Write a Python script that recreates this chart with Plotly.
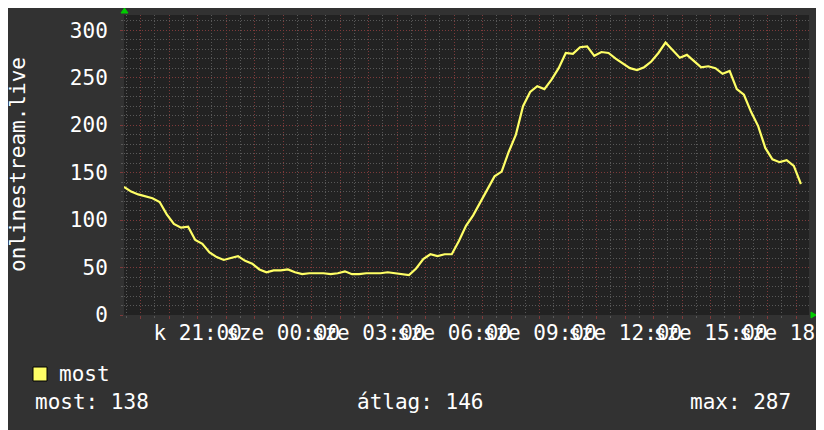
import pandas as pd
import plotly.graph_objects as go

# ---- data ----
start_time = "2024-01-02 18:25"   # kedd (Tuesday) evening
step = "15min"
values = [135, 130, 127, 125, 123, 119, 106, 96, 92, 93,
          79, 75, 66, 61, 58, 60, 62, 57, 54, 48,
          45, 47, 47, 48, 45, 43, 44, 44, 44, 43,
          44, 46, 43, 43, 44, 44, 44, 45, 44, 43,
          42, 49, 59, 64, 62, 64, 64, 78, 94, 105,
          119, 132, 146, 151, 172, 190, 220, 235, 241, 238,
          248, 260, 276, 275, 282, 283, 273, 277, 276, 270,
          265, 260, 258, 261, 267, 276, 287, 279, 271, 274,
          268, 261, 262, 260, 254, 257, 238, 232, 214, 199,
          176, 164, 161, 163, 157, 138]
series_name = "most"
y_title = "onlinestream.live"
day_names = {1: "k", 2: "sze"}  # Tuesday, Wednesday (Hungarian)
stat_labels = ["most: 138", "átlag: 146", "max: 287"]
x_range = ["2024-01-02 18:25", "2024-01-03 18:27"]
y_range = [0, 316]

times = pd.date_range(start_time, periods=len(values), freq=step)

hour_ticks = pd.date_range("2024-01-02 19:00", "2024-01-03 18:00", freq="h")
tick_text = [(f"{day_names[t.dayofweek]} {t:%H:%M}" if t.hour % 3 == 0 else "") for t in hour_ticks]

FONT = "DejaVu Sans Mono, Liberation Mono, monospace"
FS = 21
BG = "#323232"
PLOT_BG = "#222222"
MINOR = "#585858"
MAJOR = "#7e3a3a"
LINE = "#ffff66"

# page body has an 8px margin: place the figure so the plot area lands at
# x 124..809, y 15..315 of the window
OFF = 8
fig = go.Figure()
fig.add_trace(go.Scatter(x=times, y=values, mode="lines", name=series_name,
                         line=dict(color=LINE, width=2.2), showlegend=False))

fig.update_layout(
    width=824, height=430,
    margin=dict(l=124 - OFF, r=824 - (809 - OFF), t=15 - OFF, b=430 - (315 - OFF)),
    paper_bgcolor=BG, plot_bgcolor=PLOT_BG,
    font=dict(family=FONT, size=FS, color="#ffffff"),
    showlegend=False,
)

fig.update_xaxes(
    type="date", range=x_range, autorange=False,
    tickmode="array", tickvals=list(hour_ticks), ticktext=tick_text,
    tickangle=0, automargin=False, ticklabeloverflow="allow",
    showgrid=True, gridcolor=MAJOR, griddash="1px,2px", gridwidth=1,
    ticks="outside", ticklen=3, tickcolor=MAJOR, ticklabelstandoff=-4,
    minor=dict(dtick=1800000, tick0="2024-01-02 18:30", showgrid=True,
               gridcolor=MINOR, griddash="1px,2px", ticks="outside",
               ticklen=2, tickcolor=MINOR),
    showline=False, zeroline=False,
    tickfont=dict(family=FONT, size=FS, color="#ffffff"),
)

fig.update_yaxes(
    range=y_range, autorange=False, tick0=0, dtick=50,
    showgrid=True, gridcolor=MAJOR, griddash="1px,2px", gridwidth=1,
    ticks="outside", ticklen=3, tickcolor=MAJOR, ticklabelstandoff=8,
    minor=dict(dtick=10, showgrid=True, gridcolor=MINOR, griddash="1px,2px",
               ticks="outside", ticklen=2, tickcolor=MINOR),
    showline=False, zeroline=False, automargin=False,
    tickfont=dict(family=FONT, size=FS, color="#ffffff"),
)

# y-axis title (rotated)
annotations = [
    dict(text=y_title, xref="paper", yref="paper", x=0, y=0.5, xshift=-106,
         textangle=-90, showarrow=False, xanchor="center", yanchor="middle",
         font=dict(family=FONT, size=FS, color="#ffffff")),
    dict(text=series_name, xref="paper", yref="paper", x=0, y=0, xshift=57 - 124,
         yshift=-(374 - 315), showarrow=False, xanchor="left", yanchor="middle",
         font=dict(family=FONT, size=FS, color="#ffffff")),
]
stat_x = [33, 355, 688]
for txt, px in zip(stat_labels, stat_x):
    annotations.append(dict(text=txt, xref="paper", yref="paper", x=0, y=0,
                            xshift=px - 124, yshift=-(402 - 315), showarrow=False,
                            xanchor="left", yanchor="middle",
                            font=dict(family=FONT, size=FS, color="#ffffff")))
fig.update_layout(annotations=annotations)

shapes = [
    # legend swatch
    dict(type="rect", xref="paper", yref="paper", xsizemode="pixel", ysizemode="pixel",
         xanchor=0, yanchor=0, x0=33 - 124, x1=47 - 124, y0=-(381 - 315), y1=-(367 - 315),
         fillcolor=LINE, line=dict(color="#000000", width=1)),
    # up arrow at top of y axis
    dict(type="path", xref="paper", yref="paper", xsizemode="pixel", ysizemode="pixel",
         xanchor=0, yanchor=1, path="M -3,2 L 4,2 L 0.5,7 Z",
         fillcolor="#00cc00", line=dict(color="#00cc00", width=1)),
    # right arrow at end of x axis
    dict(type="path", xref="paper", yref="paper", xsizemode="pixel", ysizemode="pixel",
         xanchor=1, yanchor=0, path="M 2,3 L 2,-3 L 7,0 Z",
         fillcolor="#00cc00", line=dict(color="#00cc00", width=1)),
]
fig.update_layout(shapes=shapes)

fig.write_html("out.html")
